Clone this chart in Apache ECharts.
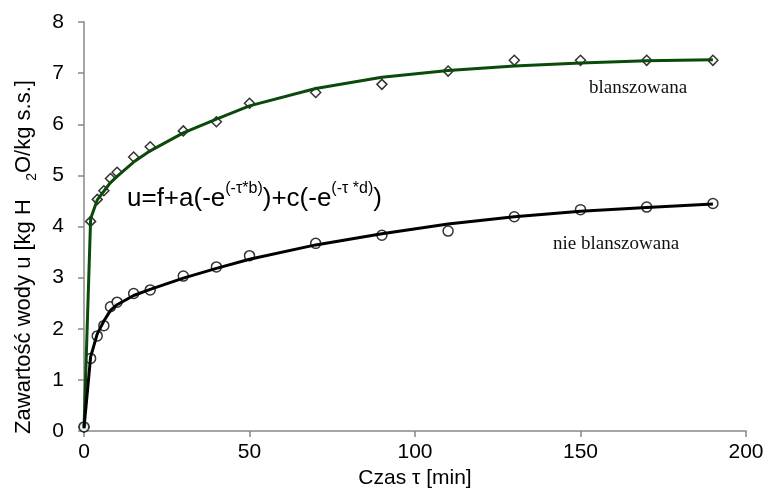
<!DOCTYPE html>
<html>
<head>
<meta charset="utf-8">
<script src="https://cdn.jsdelivr.net/npm/echarts@6/dist/echarts.min.js"></script>
<style>
  html, body { margin: 0; padding: 0; background: #fff; }
  #chart { width: 768px; height: 495px; }
</style>
</head>
<body>
<div id="chart"></div>
<script>
// czas suszenia [min]
var timeMin = [0, 2, 4, 6, 8, 10, 15, 20, 30, 40, 50, 70, 90, 110, 130, 150, 170, 190];

// blanszowana - pomiary i krzywa dopasowana
var blanchedMeas = [0.08, 4.10, 4.53, 4.70, 4.94, 5.06, 5.36, 5.56, 5.87, 6.05, 6.41, 6.62, 6.78, 7.04, 7.25, 7.25, 7.25, 7.25];
var blanchedFit = [0.05, 4.15, 4.52, 4.69, 4.86, 4.98, 5.26, 5.48, 5.83, 6.10, 6.36, 6.70, 6.92, 7.05, 7.14, 7.20, 7.24, 7.26];

// nie blanszowana - pomiary i krzywa dopasowana
var rawMeas = [0.08, 1.42, 1.86, 2.06, 2.43, 2.52, 2.69, 2.76, 3.03, 3.21, 3.43, 3.67, 3.83, 3.91, 4.19, 4.33, 4.38, 4.45];
var rawFit = [0.06, 1.45, 1.90, 2.15, 2.36, 2.47, 2.65, 2.77, 2.99, 3.18, 3.36, 3.64, 3.86, 4.05, 4.19, 4.30, 4.37, 4.44];

var xTicks = [0, 50, 100, 150, 200];
var yTicks = [0, 1, 2, 3, 4, 5, 6, 7, 8];

function pairs(xs, ys) {
  return xs.map(function (x, i) { return [x, ys[i]]; });
}

var sans = 'Liberation Sans, Arial, sans-serif';
var serif = 'Liberation Serif, Times New Roman, serif';

var chart = echarts.init(document.getElementById('chart'));

var option = {
  backgroundColor: '#fff',
  animation: false,
  grid: { left: 84, right: 22, top: 22, bottom: 64 },
  xAxis: {
    type: 'value',
    min: xTicks[0],
    max: xTicks[xTicks.length - 1],
    interval: 50,
    name: 'Czas τ [min]',
    nameLocation: 'middle',
    nameGap: 36,
    nameTextStyle: { fontFamily: sans, fontSize: 21, color: '#000' },
    axisLine: { lineStyle: { color: '#888', width: 1.5 } },
    axisTick: { length: 6, lineStyle: { color: '#888', width: 1.5 } },
    axisLabel: { fontFamily: sans, fontSize: 21, color: '#000', margin: 11 },
    splitLine: { show: false }
  },
  yAxis: {
    type: 'value',
    min: yTicks[0],
    max: yTicks[yTicks.length - 1],
    interval: 1,
    axisLine: { show: true, lineStyle: { color: '#888', width: 1.5 } },
    axisTick: { show: true, length: 6, lineStyle: { color: '#888', width: 1.5 } },
    axisLabel: { fontFamily: sans, fontSize: 21, color: '#000', margin: 20 },
    splitLine: { show: false }
  },
  series: [
    {
      name: 'blanszowana pomiar',
      type: 'scatter',
      symbol: 'diamond',
      symbolSize: [10, 10],
      itemStyle: { color: '#fff', borderColor: '#000', borderWidth: 1.5 },
      data: pairs(timeMin, blanchedMeas),
      z: 2
    },
    {
      name: 'nie blanszowana pomiar',
      type: 'scatter',
      symbol: 'circle',
      symbolSize: 10,
      itemStyle: { color: '#fff', borderColor: '#000', borderWidth: 1.5 },
      data: pairs(timeMin, rawMeas),
      z: 2
    },
    {
      name: 'blanszowana model',
      type: 'line',
      showSymbol: false,
      lineStyle: { color: '#0b4a0b', width: 3 },
      data: pairs(timeMin, blanchedFit),
      z: 3
    },
    {
      name: 'nie blanszowana model',
      type: 'line',
      showSymbol: false,
      lineStyle: { color: '#000', width: 3 },
      data: pairs(timeMin, rawFit),
      z: 3
    }
  ],
  graphic: [
    {
      type: 'text',
      x: 24,
      y: 257,
      rotation: Math.PI / 2,
      style: {
        text: '{a|Zawartość wody u [kg H   }{s|2}{a|O/kg s.s.]}',
        align: 'center',
        verticalAlign: 'middle',
        fill: '#000',
        rich: {
          a: { fontFamily: sans, fontSize: 22, lineHeight: 30, fill: '#000' },
          s: { fontFamily: sans, fontSize: 14, lineHeight: 14, verticalAlign: 'bottom', fill: '#000' }
        }
      }
    },
    {
      type: 'text',
      x: 127,
      y: 181,
      style: {
        text: '{m|u=f+a(-e}{s|(-τ*b)}{m|)+c(-e}{s|(-τ *d)}{m|)}',
        align: 'left',
        verticalAlign: 'top',
        fill: '#000',
        rich: {
          m: { fontFamily: sans, fontSize: 26, lineHeight: 36, fill: '#000' },
          s: { fontFamily: sans, fontSize: 16, lineHeight: 16, verticalAlign: 'top', fill: '#000' }
        }
      }
    },
    {
      type: 'text',
      x: 589,
      y: 88,
      style: {
        text: 'blanszowana',
        font: '19px ' + serif,
        fill: '#111',
        align: 'left',
        verticalAlign: 'middle'
      }
    },
    {
      type: 'text',
      x: 553,
      y: 244,
      style: {
        text: 'nie blanszowana',
        font: '19px ' + serif,
        fill: '#111',
        align: 'left',
        verticalAlign: 'middle'
      }
    }
  ]
};

chart.setOption(option);
</script>
</body>
</html>
